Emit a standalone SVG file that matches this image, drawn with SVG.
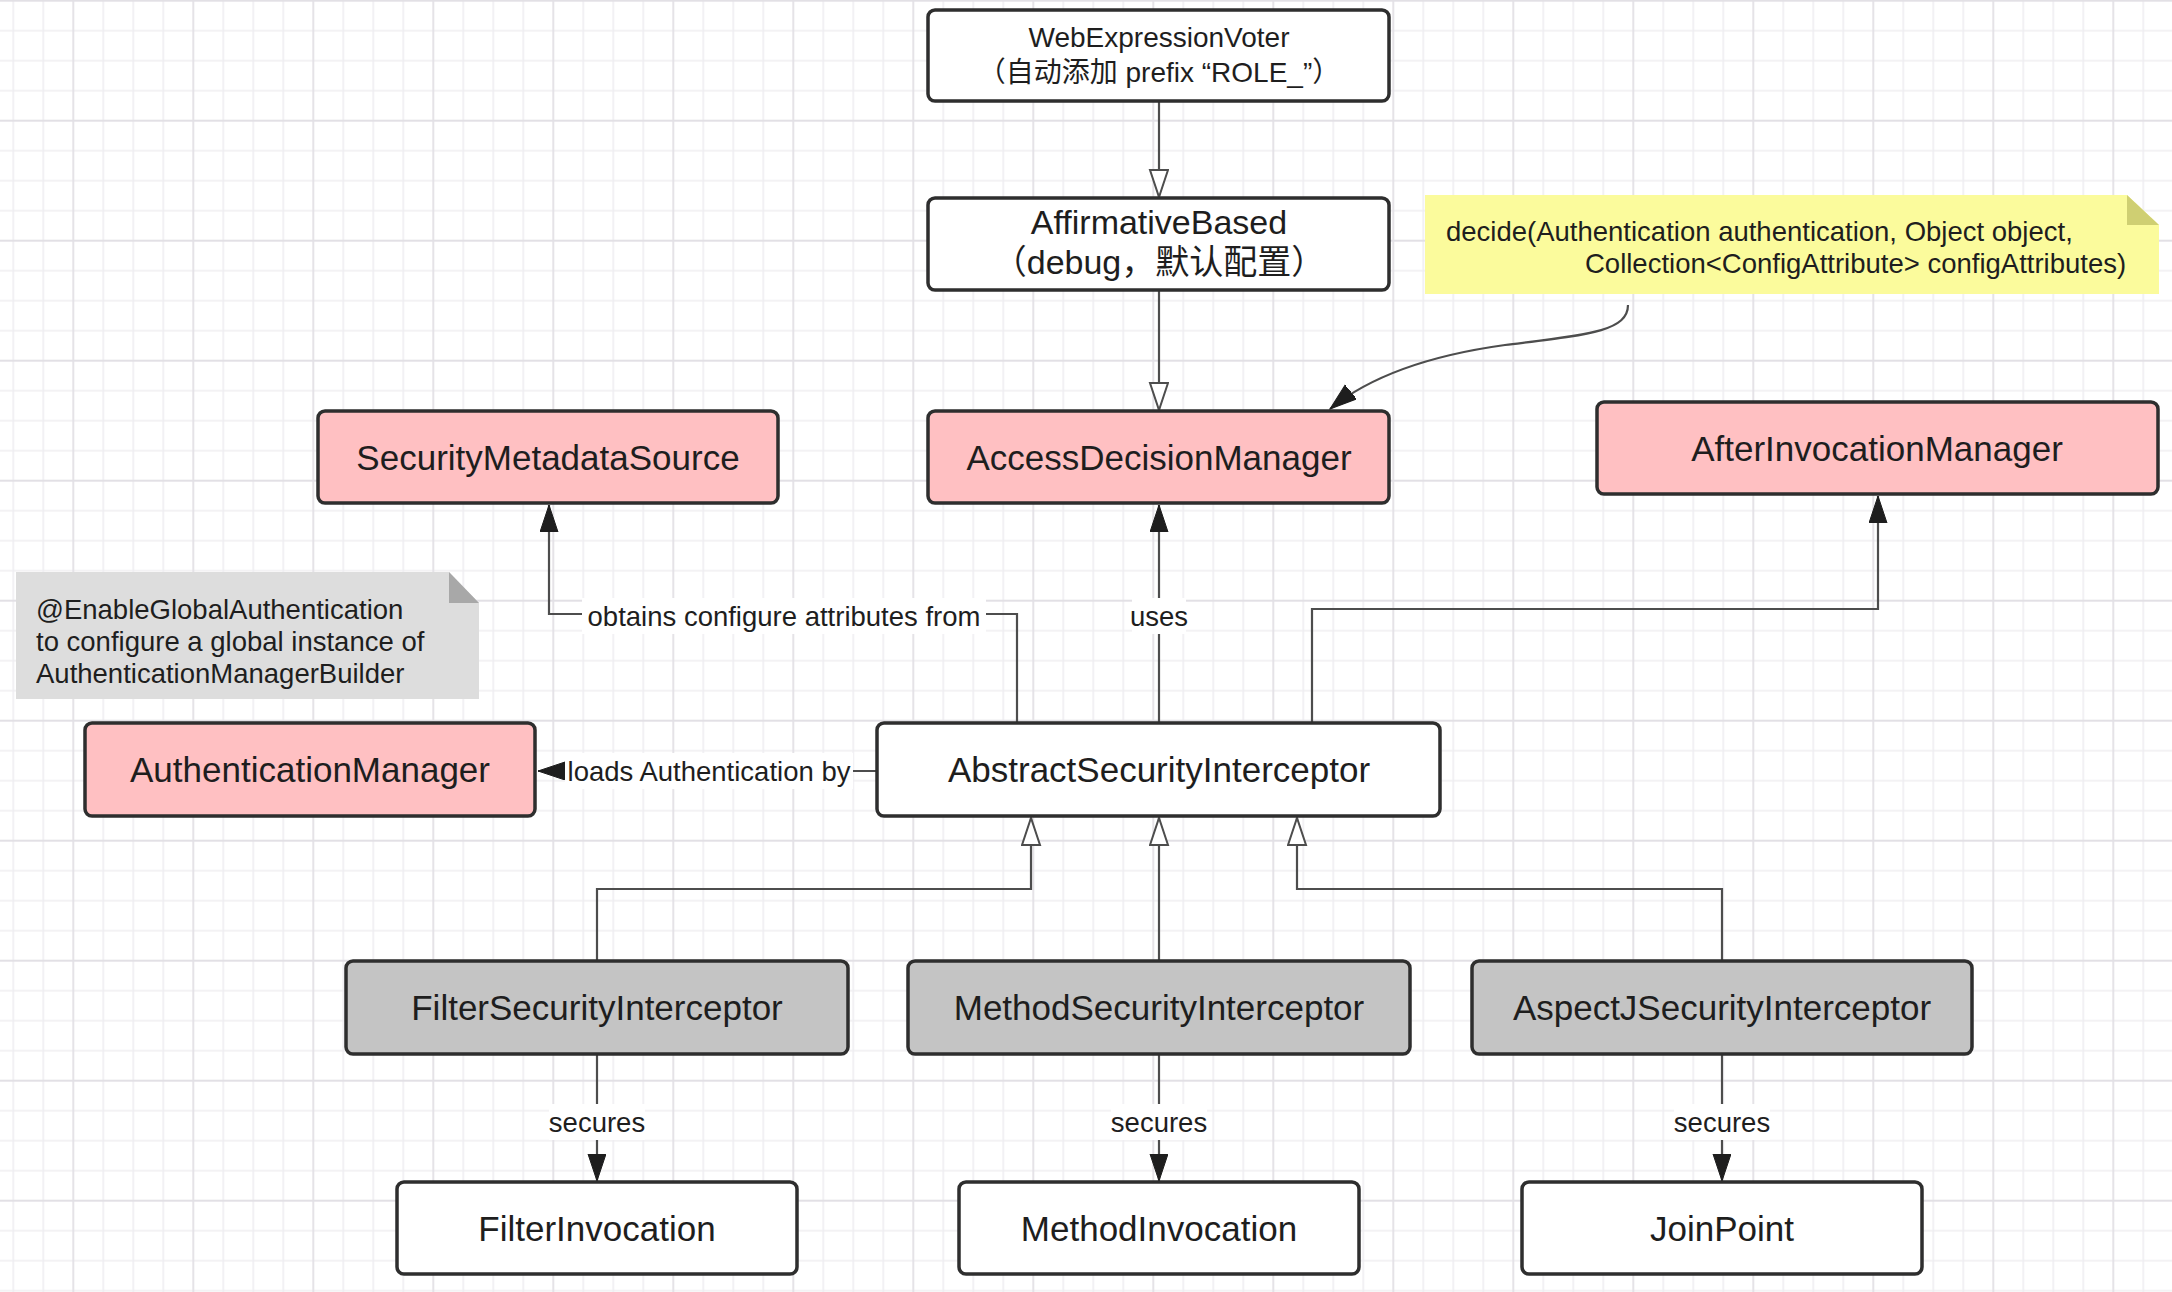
<svg xmlns="http://www.w3.org/2000/svg" width="2172" height="1292" viewBox="0 0 2172 1292">
<style>
.node rect{stroke:#2e2e2e;stroke-width:3.5}
.white{fill:#ffffff}
.pink{fill:#ffc0c2}
.gray{fill:#c4c4c4}
.nt{font-family:"Liberation Sans","Noto Sans CJK SC",sans-serif;font-size:35px;fill:#1e1e1e;text-anchor:middle}
.small{font-size:28px}
.mid{font-size:34px}
.lt{font-family:"Liberation Sans","Noto Sans CJK SC",sans-serif;font-size:27.5px;fill:#1e1e1e}
.lbl{font-family:"Liberation Sans",sans-serif;font-size:27.5px;fill:#1e1e1e;text-anchor:middle}
.lblbg{fill:#ffffff}
.edge{fill:none;stroke:#4d4d4d;stroke-width:2.2}
.gmin{stroke:#efeef1;stroke-width:1.6}
.gmaj{stroke:#e2e0e5;stroke-width:1.8}
</style>
<defs>
<pattern id="grid" patternUnits="userSpaceOnUse" x="58.3" y="-14.3" width="120" height="120">
<line class="gmin" x1="45" y1="0" x2="45" y2="120"/>
<line class="gmin" x1="75" y1="0" x2="75" y2="120"/>
<line class="gmin" x1="105" y1="0" x2="105" y2="120"/>
<line class="gmin" x1="0" y1="45" x2="120" y2="45"/>
<line class="gmin" x1="0" y1="75" x2="120" y2="75"/>
<line class="gmin" x1="0" y1="105" x2="120" y2="105"/>
<line class="gmaj" x1="15" y1="0" x2="15" y2="120"/>
<line class="gmaj" x1="0" y1="15" x2="120" y2="15"/>
</pattern>
<marker id="filled" markerUnits="userSpaceOnUse" markerWidth="30" markerHeight="20" refX="27" refY="9" orient="auto">
<path d="M0,0 L27,9 L0,18 Z" fill="#1e1e1e" stroke="#1e1e1e" stroke-width="1"/>
</marker>
<marker id="hollow" markerUnits="userSpaceOnUse" markerWidth="32" markerHeight="24" refX="28" refY="10" orient="auto">
<path d="M1,1 L28,10 L1,19 Z" fill="#ffffff" stroke="#4d4d4d" stroke-width="2"/>
</marker>
</defs>
<rect x="0" y="0" width="2172" height="1292" fill="#ffffff"/>
<rect x="0" y="0" width="2172" height="1292" fill="url(#grid)"/>

<g id="connectors">
<path class="edge" d="M1159 101 V197" marker-end="url(#hollow)"/>
<path class="edge" d="M1159 290 V410" marker-end="url(#hollow)"/>
<path class="edge" d="M1628 305 C1628 332 1585 335 1505 345 C1425 356 1368 378 1330 409" marker-end="url(#filled)"/>
<path class="edge" d="M1017 723 V614 H549 V505" marker-end="url(#filled)"/>
<path class="edge" d="M1159 723 V505" marker-end="url(#filled)"/>
<path class="edge" d="M1312 723 V609 H1878 V496" marker-end="url(#filled)"/>
<path class="edge" d="M877 771 H538" marker-end="url(#filled)"/>
<path class="edge" d="M597 961 V889 H1031 V818" marker-end="url(#hollow)"/>
<path class="edge" d="M1159 961 V818" marker-end="url(#hollow)"/>
<path class="edge" d="M1722 961 V889 H1297 V818" marker-end="url(#hollow)"/>
<path class="edge" d="M597 1055 V1181" marker-end="url(#filled)"/>
<path class="edge" d="M1159 1055 V1181" marker-end="url(#filled)"/>
<path class="edge" d="M1722 1055 V1181" marker-end="url(#filled)"/>
<rect class="lblbg" x="582" y="598" width="404" height="36"/>
<text class="lbl" x="784" y="626">obtains configure attributes from</text>
<rect class="lblbg" x="1132" y="598" width="54" height="36"/>
<text class="lbl" x="1159" y="626">uses</text>
<rect class="lblbg" x="565" y="753" width="288" height="36"/>
<text class="lbl" x="709" y="781">loads Authentication by</text>
<rect class="lblbg" x="549" y="1104" width="96" height="36"/>
<text class="lbl" x="597" y="1132">secures</text>
<rect class="lblbg" x="1111" y="1104" width="96" height="36"/>
<text class="lbl" x="1159" y="1132">secures</text>
<rect class="lblbg" x="1674" y="1104" width="96" height="36"/>
<text class="lbl" x="1722" y="1132">secures</text>
</g>

<g id="note-decide">
<path d="M1425 195 H2127 L2159 225 V294 H1425 Z" fill="#fbfb9c"/>
<path d="M2127 195 L2159 225 H2127 Z" fill="#cfcf72"/>
<text class="lt" x="1446" y="241">decide(Authentication authentication, Object object,</text>
<text class="lt" x="1585" y="273">Collection&lt;ConfigAttribute&gt; configAttributes)</text>
</g>

<g id="note-global">
<path d="M16 572 H449 L479 603 V699 H16 Z" fill="#dddddd"/>
<path d="M449 572 L479 603 H449 Z" fill="#a8a8a8"/>
<text class="lt" x="36" y="619">@EnableGlobalAuthentication</text>
<text class="lt" x="36" y="651">to configure a global instance of</text>
<text class="lt" x="36" y="683">AuthenticationManagerBuilder</text>
</g>

<g id="WebExpressionVoter" class="node">
<rect class="white" x="928" y="10" width="461" height="91" rx="7"/>
<text class="nt small" x="1159" y="47">WebExpressionVoter</text>
<text class="nt small" x="1159" y="82">（自动添加 prefix “ROLE_”）</text>
</g>

<g id="AffirmativeBased" class="node">
<rect class="white" x="928" y="198" width="461" height="92" rx="7"/>
<text class="nt mid" x="1159" y="234">AffirmativeBased</text>
<text class="nt mid" x="1159" y="274">（debug，默认配置）</text>
</g>

<g id="SecurityMetadataSource" class="node">
<rect class="pink" x="318" y="411" width="460" height="92" rx="7"/>
<text class="nt" x="548" y="469.5">SecurityMetadataSource</text>
</g>

<g id="AccessDecisionManager" class="node">
<rect class="pink" x="928" y="411" width="461" height="92" rx="7"/>
<text class="nt" x="1159" y="469.5">AccessDecisionManager</text>
</g>

<g id="AfterInvocationManager" class="node">
<rect class="pink" x="1597" y="402" width="561" height="92" rx="7"/>
<text class="nt" x="1877" y="460.5">AfterInvocationManager</text>
</g>

<g id="AuthenticationManager" class="node">
<rect class="pink" x="85" y="723" width="450" height="93" rx="7"/>
<text class="nt" x="310" y="782">AuthenticationManager</text>
</g>

<g id="AbstractSecurityInterceptor" class="node">
<rect class="white" x="877" y="723" width="563" height="93" rx="7"/>
<text class="nt" x="1159" y="782">AbstractSecurityInterceptor</text>
</g>

<g id="FilterSecurityInterceptor" class="node">
<rect class="gray" x="346" y="961" width="502" height="93" rx="7"/>
<text class="nt" x="597" y="1020">FilterSecurityInterceptor</text>
</g>

<g id="MethodSecurityInterceptor" class="node">
<rect class="gray" x="908" y="961" width="502" height="93" rx="7"/>
<text class="nt" x="1159" y="1020">MethodSecurityInterceptor</text>
</g>

<g id="AspectJSecurityInterceptor" class="node">
<rect class="gray" x="1472" y="961" width="500" height="93" rx="7"/>
<text class="nt" x="1722" y="1020">AspectJSecurityInterceptor</text>
</g>

<g id="FilterInvocation" class="node">
<rect class="white" x="397" y="1182" width="400" height="92" rx="7"/>
<text class="nt" x="597" y="1240.5">FilterInvocation</text>
</g>

<g id="MethodInvocation" class="node">
<rect class="white" x="959" y="1182" width="400" height="92" rx="7"/>
<text class="nt" x="1159" y="1240.5">MethodInvocation</text>
</g>

<g id="JoinPoint" class="node">
<rect class="white" x="1522" y="1182" width="400" height="92" rx="7"/>
<text class="nt" x="1722" y="1240.5">JoinPoint</text>
</g>
</svg>
